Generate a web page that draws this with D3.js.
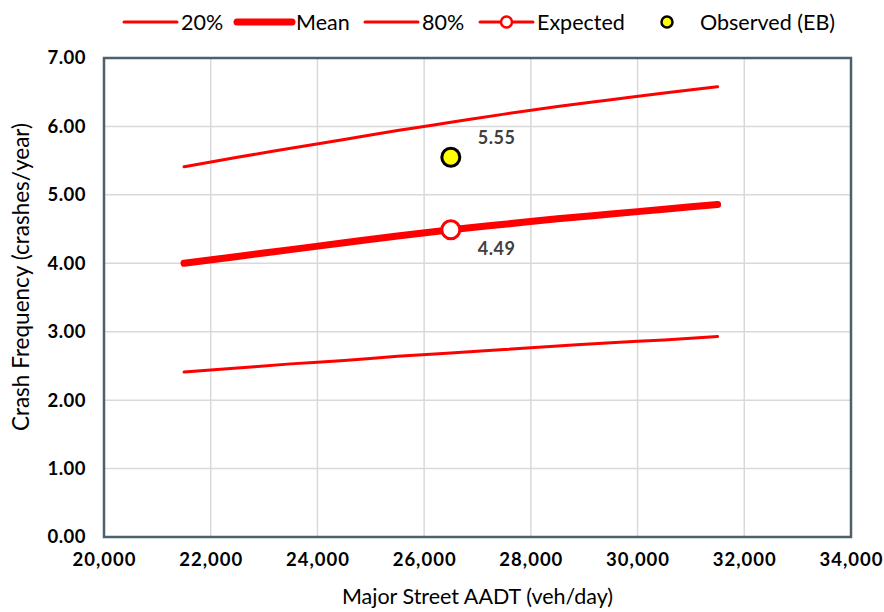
<!DOCTYPE html>
<html><head><meta charset="utf-8">
<script src="https://cdn.jsdelivr.net/npm/d3@7"></script>
<style>
body{margin:0;background:#fff;}
svg{display:block;font-family:Lato, "Open Sans", sans-serif;}
</style></head>
<body>
<svg id="chart" width="884" height="612"></svg>
<script>
const aadt = [21500, 22500, 23500, 24500, 25500, 26500, 27500, 28500, 29500, 30500, 31500];
const p20 = [2.41, 2.47, 2.53, 2.58, 2.64, 2.69, 2.74, 2.79, 2.84, 2.88, 2.93];
const mean = [4.00, 4.10, 4.20, 4.30, 4.40, 4.49, 4.57, 4.65, 4.72, 4.79, 4.86];
const p80 = [5.41, 5.55, 5.68, 5.81, 5.94, 6.06, 6.18, 6.29, 6.39, 6.49, 6.58];
const expected = [{x: 26500, y: 4.49}];
const observed = [{x: 26500, y: 5.55}];
const xTicks = [20000, 22000, 24000, 26000, 28000, 30000, 32000, 34000];
const yTicks = [0, 1, 2, 3, 4, 5, 6, 7];

const svg = d3.select("#chart");
const L = 104, R = 851, T = 58, B = 537;
const x = d3.scaleLinear().domain([20000, 34000]).range([L, R]);
const y = d3.scaleLinear().domain([0, 7]).range([B, T]);

// gridlines
svg.append("g").selectAll("line").data(xTicks.slice(1, -1)).join("line")
  .attr("x1", d => x(d)).attr("x2", d => x(d)).attr("y1", T).attr("y2", B)
  .attr("stroke", "#d9d9d9").attr("stroke-width", 1.5);
svg.append("g").selectAll("line").data(yTicks.slice(1, -1)).join("line")
  .attr("y1", d => y(d)).attr("y2", d => y(d)).attr("x1", L).attr("x2", R)
  .attr("stroke", "#d9d9d9").attr("stroke-width", 1.5);

// frame
svg.append("rect").attr("x", L).attr("y", T).attr("width", R - L).attr("height", B - T)
  .attr("fill", "none").attr("stroke", "#4e5f6e").attr("stroke-width", 2.5);

// axes (labels only)
const fmt = d3.format(",");
const xAxis = svg.append("g").attr("transform", `translate(0,${B})`)
  .call(d3.axisBottom(x).tickValues(xTicks).tickFormat(fmt).tickSize(0).tickPadding(16));
const yAxis = svg.append("g").attr("transform", `translate(${L},0)`)
  .call(d3.axisLeft(y).tickValues(yTicks).tickFormat(d3.format(".2f")).tickSize(0).tickPadding(18));
[xAxis, yAxis].forEach(a => {
  a.select(".domain").remove();
  a.selectAll("text").attr("font-family", "Lato, sans-serif").attr("font-weight", "bold")
    .attr("font-size", 18.5).attr("fill", "#000");
});
xAxis.selectAll("text").attr("letter-spacing", 1);
yAxis.selectAll("text").attr("letter-spacing", 0.5);

// axis titles
svg.append("text").attr("x", (L + R) / 2).attr("y", 604).attr("text-anchor", "middle")
  .attr("font-size", 21.5).attr("fill", "#000").text("Major Street AADT (veh/day)");
svg.append("text").attr("transform", `translate(29,277) rotate(-90)`)
  .attr("text-anchor", "middle").attr("font-size", 22.5).attr("fill", "#000")
  .text("Crash Frequency (crashes/year)");

// lines
const line = d3.line().x(d => x(d[0])).y(d => y(d[1])).curve(d3.curveMonotoneX);
const series = [
  {vals: p20, w: 3},
  {vals: p80, w: 3},
  {vals: mean, w: 7}
];
series.forEach(s => {
  svg.append("path").datum(aadt.map((a, i) => [a, s.vals[i]]))
    .attr("d", line).attr("fill", "none").attr("stroke", "#ff0000")
    .attr("stroke-width", s.w).attr("stroke-linecap", "round").attr("stroke-linejoin", "round");
});

// points
svg.selectAll("circle.exp").data(expected).join("circle")
  .attr("cx", d => x(d.x)).attr("cy", d => y(d.y)).attr("r", 9)
  .attr("fill", "#fff").attr("stroke", "#ff0000").attr("stroke-width", 3);
svg.selectAll("circle.obs").data(observed).join("circle")
  .attr("cx", d => x(d.x)).attr("cy", d => y(d.y)).attr("r", 9)
  .attr("fill", "#ffff00").attr("stroke", "#000").attr("stroke-width", 3);

// data labels
svg.selectAll("text.lo").data(observed).join("text")
  .attr("x", d => x(d.x) + 27).attr("y", d => y(d.y) - 13)
  .attr("font-weight", "bold").attr("font-size", 18).attr("letter-spacing", 0.5).attr("fill", "#404040")
  .text(d => d.y.toFixed(2));
svg.selectAll("text.le").data(expected).join("text")
  .attr("x", d => x(d.x) + 27).attr("y", d => y(d.y) + 25)
  .attr("font-weight", "bold").attr("font-size", 18).attr("letter-spacing", 0.5).attr("fill", "#404040")
  .text(d => d.y.toFixed(2));

// legend
const ly = 22;
const legend = [
  {label: "20%", x0: 124, x1: 177, w: 3, tx: 181},
  {label: "Mean", x0: 237, x1: 292, w: 7, tx: 296},
  {label: "80%", x0: 365, x1: 418, w: 3, tx: 422},
  {label: "Expected", x0: 480, x1: 533, w: 3, tx: 537, marker: "exp"},
  {label: "Observed (EB)", tx: 700, marker: "obs", mx: 667}
];
legend.forEach(l => {
  if (l.x0 !== undefined) {
    svg.append("line").attr("x1", l.x0).attr("x2", l.x1).attr("y1", ly).attr("y2", ly)
      .attr("stroke", "#ff0000").attr("stroke-width", l.w).attr("stroke-linecap", "round");
  }
  if (l.marker === "exp") {
    svg.append("circle").attr("cx", (l.x0 + l.x1) / 2).attr("cy", ly).attr("r", 5.5)
      .attr("fill", "#fff").attr("stroke", "#ff0000").attr("stroke-width", 2.5);
  }
  if (l.marker === "obs") {
    svg.append("circle").attr("cx", l.mx).attr("cy", ly).attr("r", 5.5)
      .attr("fill", "#ffff00").attr("stroke", "#000").attr("stroke-width", 2.5);
  }
  svg.append("text").attr("x", l.tx).attr("y", ly).attr("dy", "0.35em")
    .attr("font-size", 21.5).attr("fill", "#000").text(l.label);
});
</script>
</body></html>
